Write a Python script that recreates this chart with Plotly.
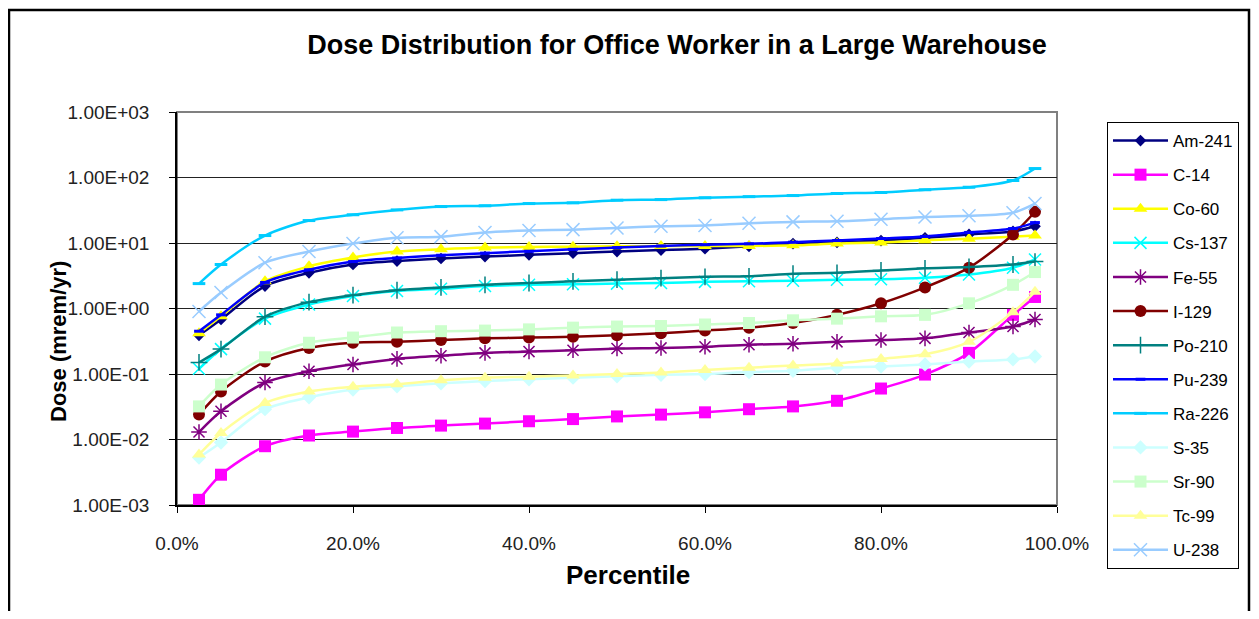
import plotly.graph_objects as go

# percentiles (fraction)
percentile = [0.025, 0.05, 0.10, 0.15, 0.20, 0.25, 0.30, 0.35, 0.40, 0.45, 0.50,
              0.55, 0.60, 0.65, 0.70, 0.75, 0.80, 0.85, 0.90, 0.95, 0.975]

# dose (mrem/yr)
am241 = [0.39, 0.68, 2.2, 3.5, 4.7, 5.3, 5.8, 6.2, 6.6, 7.0, 7.4, 7.8, 8.2, 8.9, 9.8, 10.2, 10.9, 12.0, 13.5, 15.0, 18.0]
c14 = [0.0012, 0.0029, 0.0079, 0.0115, 0.0132, 0.015, 0.0163, 0.0175, 0.019, 0.0205, 0.0225, 0.024, 0.026, 0.029, 0.032, 0.039, 0.06, 0.098, 0.21, 0.8, 1.5]
co60 = [0.42, 0.76, 2.6, 4.4, 6.0, 7.4, 8.0, 8.5, 8.7, 8.8, 8.9, 9.0, 9.0, 9.0, 9.2, 9.8, 10.2, 11.0, 11.6, 12.5, 13.0]
cs137 = [0.12, 0.24, 0.70, 1.15, 1.55, 1.85, 2.0, 2.2, 2.3, 2.35, 2.4, 2.45, 2.55, 2.6, 2.65, 2.75, 2.8, 2.95, 3.3, 4.2, 5.6]
fe55 = [0.013, 0.027, 0.074, 0.11, 0.14, 0.17, 0.19, 0.21, 0.22, 0.23, 0.245, 0.25, 0.26, 0.28, 0.29, 0.31, 0.33, 0.35, 0.43, 0.53, 0.68]
i129 = [0.024, 0.054, 0.155, 0.25, 0.30, 0.31, 0.33, 0.35, 0.36, 0.37, 0.39, 0.42, 0.46, 0.51, 0.6, 0.8, 1.2, 2.1, 4.2, 13.5, 30.0]
po210 = [0.15, 0.24, 0.75, 1.25, 1.6, 1.9, 2.1, 2.3, 2.45, 2.6, 2.75, 2.9, 3.05, 3.1, 3.4, 3.5, 3.8, 4.1, 4.3, 4.7, 5.2]
pu239 = [0.45, 0.80, 2.5, 3.9, 5.2, 5.9, 6.5, 7.0, 7.5, 8.0, 8.5, 9.0, 9.4, 9.7, 10.3, 10.9, 11.7, 12.6, 14.5, 16.6, 20.5]
ra226 = [2.4, 4.7, 13, 22, 27, 32, 36, 37, 40, 41, 45, 46, 49, 51, 53, 57, 59, 65, 71, 90, 137]
s35 = [0.0053, 0.009, 0.029, 0.044, 0.058, 0.065, 0.072, 0.078, 0.083, 0.088, 0.092, 0.097, 0.10, 0.107, 0.112, 0.125, 0.13, 0.14, 0.155, 0.167, 0.185]
sr90 = [0.032, 0.069, 0.18, 0.30, 0.36, 0.43, 0.45, 0.46, 0.48, 0.51, 0.53, 0.54, 0.57, 0.60, 0.66, 0.70, 0.76, 0.80, 1.2, 2.3, 3.6]
tc99 = [0.0059, 0.0126, 0.036, 0.054, 0.064, 0.07, 0.08, 0.088, 0.091, 0.095, 0.10, 0.105, 0.115, 0.125, 0.135, 0.145, 0.17, 0.20, 0.31, 0.88, 1.8]
u238 = [0.9, 1.75, 5.0, 7.4, 9.8, 12, 12.5, 14.5, 15.5, 16, 17, 18, 18.5, 20, 21, 21.5, 23, 25, 26, 29, 40]

y_ticks = [1e-3, 1e-2, 1e-1, 1e0, 1e1, 1e2, 1e3]
y_ticktext = ["1.00E-03", "1.00E-02", "1.00E-01", "1.00E+00", "1.00E+01", "1.00E+02", "1.00E+03"]

# name, values, colour, marker symbol, marker size
SERIES = [
    ("Am-241", am241, "#000080", "diamond", 9),
    ("C-14", c14, "#FF00FF", "square", 12),
    ("Co-60", co60, "#FFFF00", "triangle-up", 12),
    ("Cs-137", cs137, "#00FFFF", "x-thin", 12),
    ("Fe-55", fe55, "#800080", "asterisk", 13),
    ("I-129", i129, "#800000", "circle", 12),
    ("Po-210", po210, "#008080", "cross-thin", 12),
    ("Pu-239", pu239, "#0000FF", "line-ew", 7),
    ("Ra-226", ra226, "#00CCFF", "line-ew", 9),
    ("S-35", s35, "#CCFFFF", "diamond", 11),
    ("Sr-90", sr90, "#CCFFCC", "square", 12),
    ("Tc-99", tc99, "#FFFF99", "triangle-up", 12),
    ("U-238", u238, "#99CCFF", "x-thin", 13),
]

FONT = "Liberation Sans, Arial, sans-serif"
OFF = 8  # page body margin
W, H = 1243, 603
L, T = 177 - OFF, 112 - OFF
R = W - (1057 - OFF)
B = H - (505 - OFF)
PW, PH = W - L - R, H - T - B


def px_x(sx):
    # screen x -> paper x
    return (sx - OFF - L) / PW


def px_y(sy):
    # screen y -> paper y
    return (H - B - (sy - OFF)) / PH


fig = go.Figure()
for name, vals, col, sym, size in SERIES:
    open_sym = sym in ("x-thin", "cross-thin", "asterisk", "line-ew")
    fig.add_trace(go.Scatter(
        x=percentile, y=vals, name=name, legendgroup=name,
        mode="lines+markers",
        line=dict(color=col, width=2.5, shape="spline", smoothing=0.8),
        marker=dict(symbol=sym, size=size, color=col,
                    line=dict(color=col, width=3 if sym == "line-ew" else (1.5 if open_sym else 0))),
    ))

fig.update_layout(
    width=W, height=H,
    paper_bgcolor="white", plot_bgcolor="white",
    margin=dict(l=L, r=R, t=T, b=B),
    font=dict(family=FONT, size=19, color="#222"),
    title=dict(text="<b>Dose Distribution for Office Worker in a Large Warehouse</b>",
               x=(677 - OFF) / W, xanchor="center", y=1 - (45 - OFF) / H, yanchor="middle",
               font=dict(size=27, color="black")),
    xaxis=dict(range=[0, 1], tickvals=[0, 0.2, 0.4, 0.6, 0.8, 1.0], tickformat=".1%",
               showgrid=False, zeroline=False, showline=True, linecolor="black", linewidth=1.5,
               ticks="outside", ticklen=6, tickcolor="black", ticklabelstandoff=14),
    yaxis=dict(type="log", range=[-3, 3], tickvals=y_ticks, ticktext=y_ticktext,
               showgrid=True, gridcolor="#222", gridwidth=1, zeroline=False,
               showline=True, linecolor="black", linewidth=1.5,
               ticks="outside", ticklen=6, tickcolor="black", ticklabelstandoff=16),
    legend=dict(x=px_x(1107), xanchor="left", y=px_y(122), yanchor="top",
                bordercolor="black", borderwidth=1, bgcolor="white",
                tracegroupgap=9, itemwidth=55, font=dict(size=17, color="black"),
                traceorder="grouped", maxheight=560),
    showlegend=True,
)

# plot-area border and chart-area border
fig.add_shape(type="rect", xref="paper", yref="paper", x0=0, x1=1, y0=0, y1=1,
              line=dict(color="#808080", width=2), layer="below")
fig.add_shape(type="rect", xref="paper", yref="paper",
              x0=px_x(9), x1=px_x(1249), y0=px_y(640), y1=px_y(10),
              line=dict(color="black", width=2.5), layer="below")

fig.add_annotation(text="<b>Percentile</b>", xref="paper", yref="paper",
                   x=px_x(628), y=px_y(575), xanchor="center", yanchor="middle",
                   showarrow=False, font=dict(size=26, color="black"))
fig.add_annotation(text="<b>Dose (mrem/yr)</b>", xref="paper", yref="paper",
                   x=px_x(58), y=px_y(342), xanchor="center", yanchor="middle",
                   showarrow=False, textangle=-90,
                   font=dict(size=22, color="black"))

fig.write_html("out.html")
